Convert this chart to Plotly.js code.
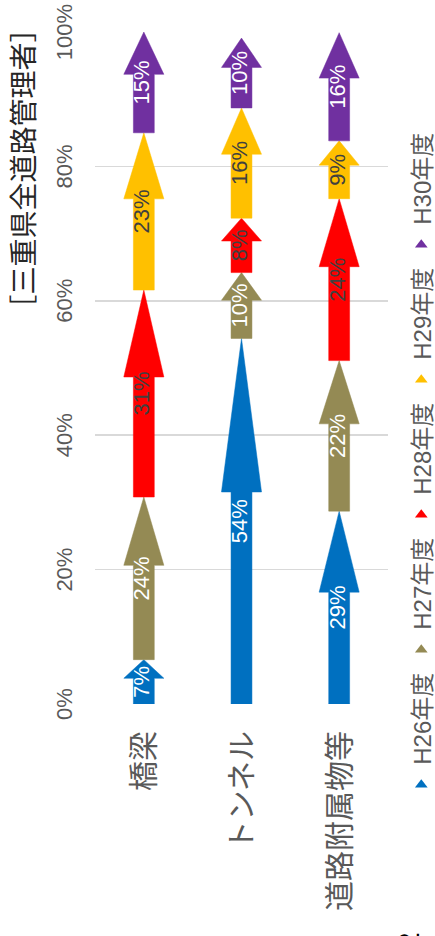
<!DOCTYPE html>
<html><head><meta charset="utf-8">
<script src="https://cdn.plot.ly/plotly-3.0.1.min.js"></script>
<style>
html,body{margin:0;padding:0;width:435px;height:936px;overflow:hidden;background:#fff;}
#chart{position:absolute;left:0;top:0;width:936px;height:435px;transform-origin:0 0;transform:translate(0px,936px) rotate(-90deg);}
</style></head><body><div id="chart"></div>
<script>
// categories and series (percent share)
const categories = ['橋梁', 'トンネル', '道路附属物等'];
const seriesNames = ['H26年度', 'H27年度', 'H28年度', 'H29年度', 'H30年度'];
const h26 = [6.6, 54.4, 28.7];
const h27 = [24.2, 9.8, 22.4];
const h28 = [30.8, 8.1, 24.1];
const h29 = [23.4, 16.4, 8.6];
const h30 = [15.0, 10.4, 16.1];
const xTickVals = [0, 20, 40, 60, 80, 100];
const titleText = '［三重県全道路管理者］';

const series = [h26, h27, h28, h29, h30];
const colors = ['#0070C0', '#948A54', '#FF0000', '#FFC000', '#7030A0'];
const labelColors = ['#ffffff', '#ffffff', '#404040', '#404040', '#ffffff'];
const FONT = 'Liberation Sans, Noto Sans CJK JP, sans-serif';

const shaftHalf = 0.107, headHalf = 0.205, headFrac = 0.42;
const traces = [];
const cum = categories.map(() => 0);
const textTraces = [];
series.forEach((vals, si) => {
  const mids = [], labels = [];
  vals.forEach((v, ci) => {
    const s = cum[ci], e = s + v, hb = e - v * headFrac;
    const c = ci;
    traces.push({
      type: 'scatter', mode: 'lines', fill: 'toself',
      x: [s, hb, hb, e, hb, hb, s, s],
      y: [c - shaftHalf, c - shaftHalf, c - headHalf, c, c + headHalf, c + shaftHalf, c + shaftHalf, c - shaftHalf],
      fillcolor: colors[si], line: {color: colors[si], width: 0.5},
      showlegend: false, hoverinfo: 'skip'
    });
    mids.push((s + e) / 2);
    labels.push(Math.round(v) + '%');
    cum[ci] = e;
  });
  textTraces.push({
    type: 'scatter', mode: 'text', x: mids, y: categories.map((_, i) => i),
    text: labels, textposition: 'middle center', cliponaxis: false,
    textfont: {size: 22, color: labelColors[si], family: FONT},
    showlegend: false, hoverinfo: 'skip'
  });
});
const legendTraces = seriesNames.map((n, si) => ({
  type: 'scatter', mode: 'markers', x: [null], y: [null], name: n,
  marker: {symbol: 'triangle-right', size: 11, color: colors[si]}
}));

const layout = {
  width: 936, height: 435,
  margin: {l: 232, r: 32, t: 95, b: 47, autoexpand: false},
  paper_bgcolor: '#ffffff', plot_bgcolor: '#ffffff',
  font: {family: FONT, color: '#595959'},
  title: {text: titleText, x: 0.82, xanchor: 'center', y: 0.945, yanchor: 'middle',
          font: {size: 28, color: '#262626', family: FONT}},
  xaxis: {range: [0, 100], side: 'top', tickvals: xTickVals, ticktext: xTickVals.map(v => v + '%'),
          tickfont: {size: 22, color: '#595959'}, showgrid: true, gridcolor: '#d9d9d9', gridwidth: 1.5,
          zeroline: false, showline: false, ticks: '', ticklabelstandoff: 18, fixedrange: true},
  yaxis: {range: [2.5, -0.5], tickvals: [0, 1, 2], ticktext: categories,
          tickfont: {size: 30, color: '#595959'}, showgrid: false, zeroline: false, showline: false,
          ticks: '', ticklabelstandoff: 26, fixedrange: true},
  showlegend: true,
  legend: {orientation: 'h', x: -0.15, xanchor: 'left', y: -0.115, yanchor: 'middle',
           entrywidth: 90, entrywidthmode: 'pixels', font: {size: 24, color: '#595959'},
           bgcolor: 'rgba(0,0,0,0)', traceorder: 'normal'},
  annotations: [{text: '2', xref: 'paper', yref: 'paper', x: -0.336, y: -0.07, xanchor: 'right', yanchor: 'middle',
                 showarrow: false, font: {size: 30, color: '#000000'}}]
};
Plotly.newPlot('chart', traces.concat(textTraces, legendTraces), layout, {displayModeBar: false, staticPlot: true});
</script></body></html>
